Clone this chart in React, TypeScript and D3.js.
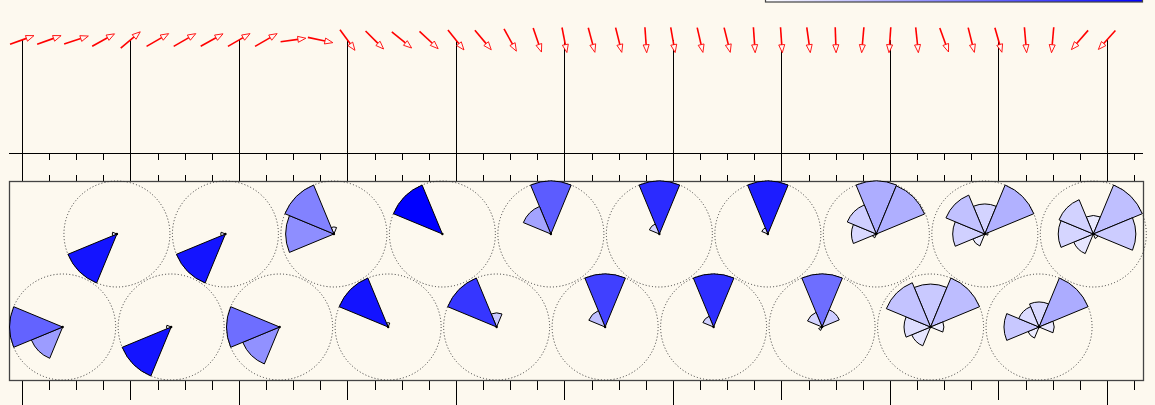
import React from "react";
import * as d3 from "d3";

// ---- data ----
// Wind arrow bearings (degrees, direction the arrow points, clockwise from north), one per time step
const ARROW_BEARING = [70, 70, 72, 61, 50, 60, 60, 61, 60, 60, 82, 102, 144, 135, 129, 133, 141, 140, 151, 161, 169, 165, 166, 176, 170, 167, 166, 176, 176, 172, 178, 185, 184, 174, 160, 166, 164, 175, 185, 221, 222];

// Direction sectors of the wind roses
const SECTORS = ["N", "NE", "E", "SE", "S", "SW", "W", "NW"];

// Wind rose frequencies per sector [N, NE, E, SE, S, SW, W, NW]
const ROSE_FREQ: number[][] = [
  [0, 0, 0, 0, 0, 0.39, 0.61, 0],
  [0, 0, 0, 0, 0, 0.92, 0.08, 0],
  [0, 0, 0, 0, 0, 0.92, 0.08, 0],
  [0, 0, 0, 0, 0, 0.92, 0.08, 0],
  [0, 0, 0, 0, 0, 0.43, 0.57, 0],
  [0.065, 0, 0, 0, 0, 0, 0.445, 0.49],
  [0.075, 0, 0, 0, 0, 0, 0, 0.925],
  [0, 0, 0, 0, 0, 0, 0, 1],
  [0.21, 0, 0, 0, 0, 0, 0, 0.79],
  [0.64, 0, 0, 0, 0, 0, 0, 0.36],
  [0.75, 0, 0, 0, 0, 0, 0, 0.25],
  [0.83, 0, 0, 0, 0, 0, 0, 0.17],
  [0.82, 0, 0, 0, 0, 0, 0, 0.18],
  [0.89, 0, 0, 0, 0, 0, 0, 0.11],
  [0.57, 0.2, 0, 0, 0, 0.04, 0, 0.17],
  [0.32, 0.315, 0, 0, 0, 0.025, 0.15, 0.19],
  [0.21, 0.26, 0.065, 0, 0, 0.1, 0.13, 0.235],
  [0.173, 0.306, 0.018, 0, 0, 0.075, 0.185, 0.243],
  [0.154, 0.327, 0.093, 0, 0, 0.074, 0.216, 0.136],
  [0.087, 0.25, 0.2, 0.023, 0, 0.1, 0.165, 0.175],
];

const N_TICKS = 42; // tick indices 0..41
const MAJOR_EVERY = 4;

// ---- layout ----
const W = 1155;
const H = 405;
const BG = "#fdf9ef";
const PANEL = { x0: 9, x1: 1143, y0: 181, y1: 380 };
const AXIS_Y = 153;
const ARROW_Y = 40;
const ARROW_LEN = 25.5;
const ROSE_R = 53;

export default function App() {
  const x = d3.scaleLinear().domain([0, N_TICKS - 1]).range([22, 1134]);
  const color = d3.interpolateRgb("#ffffff", "#0000ff");
  const rowY = [PANEL.y1 - ROSE_R, PANEL.y0 + ROSE_R];
  const ticks = d3.range(N_TICKS);
  const arc = d3.arc<any>();
  const sectorAngle = (2 * Math.PI) / SECTORS.length;

  const crisp = (v: number) => Math.round(v) + 0.5;

  return (
    <svg
      width={W}
      height={H}
      style={{ position: "absolute", left: 0, top: 0, display: "block", background: BG }}
    >
      <defs>
        <linearGradient id="legendGrad" x1="0" x2="1" y1="0" y2="0">
          <stop offset="0%" stopColor="#ffffff" />
          <stop offset="100%" stopColor="#0000ff" />
        </linearGradient>
      </defs>
      <rect x={0} y={0} width={W} height={H} fill={BG} />

      {/* legend colour bar (mostly above the visible area) */}
      <rect x={765.5} y={-30} width={377} height={32} fill="url(#legendGrad)" stroke="#444" strokeWidth={1.2} />

      {/* major vertical guide lines */}
      {ticks
        .filter((t) => t % MAJOR_EVERY === 0 && t < ARROW_BEARING.length)
        .map((t) => (
          <line key={"v" + t} x1={crisp(x(t))} x2={crisp(x(t))} y1={ARROW_Y} y2={PANEL.y0} stroke="#000" strokeWidth={1} />
        ))}

      {/* top time axis */}
      <line x1={PANEL.x0} x2={PANEL.x1} y1={AXIS_Y + 0.5} y2={AXIS_Y + 0.5} stroke="#000" strokeWidth={1} />
      {ticks.map((t) => (
        <g key={"tt" + t}>
          <line x1={crisp(x(t))} x2={crisp(x(t))} y1={AXIS_Y} y2={AXIS_Y + 7} stroke="#000" strokeWidth={1} />
          <line x1={crisp(x(t))} x2={crisp(x(t))} y1={PANEL.y0 - 6} y2={PANEL.y0} stroke="#000" strokeWidth={1} />
        </g>
      ))}

      {/* bottom ticks */}
      {ticks.map((t) => {
        const isMajor = t % MAJOR_EVERY === 0;
        const isDay = t % (MAJOR_EVERY * 2) === 0;
        const len = isMajor ? (isDay ? 30 : 20) : 10;
        return (
          <line key={"bt" + t} x1={crisp(x(t))} x2={crisp(x(t))} y1={PANEL.y1} y2={PANEL.y1 + len} stroke="#000" strokeWidth={1} />
        );
      })}

      {/* panel */}
      <rect
        x={PANEL.x0 + 0.5}
        y={PANEL.y0 + 0.5}
        width={PANEL.x1 - PANEL.x0}
        height={PANEL.y1 - PANEL.y0}
        fill={BG}
        stroke="#444"
        strokeWidth={1.3}
      />

      {/* dotted rose circles */}
      {ROSE_FREQ.map((_, i) => (
        <circle
          key={"c" + i}
          cx={x(1.5 + 2 * i)}
          cy={rowY[i % 2]}
          r={ROSE_R}
          fill="none"
          stroke="#333"
          strokeWidth={1}
          strokeDasharray="1,2.2"
        />
      ))}

      {/* wind roses */}
      {ROSE_FREQ.map((freq, i) => {
        const maxF = d3.max(freq) || 1;
        const r = d3.scaleLinear().domain([0, maxF]).range([0, ROSE_R]);
        return (
          <g key={"r" + i} transform={`translate(${x(1.5 + 2 * i)},${rowY[i % 2]})`}>
            {freq.map((f, k) =>
              f > 0 ? (
                <path
                  key={SECTORS[k]}
                  d={
                    arc({
                      innerRadius: 0,
                      outerRadius: r(f),
                      startAngle: k * sectorAngle - sectorAngle / 2,
                      endAngle: k * sectorAngle + sectorAngle / 2,
                    }) as string
                  }
                  fill={color(f)}
                  stroke="#000"
                  strokeWidth={1}
                  strokeLinejoin="round"
                />
              ) : null
            )}
            <circle r={1.2} fill="#000" />
          </g>
        );
      })}

      {/* wind arrows */}
      {ARROW_BEARING.map((b, i) => {
        const rad = (b * Math.PI) / 180;
        const ux = Math.sin(rad);
        const uy = -Math.cos(rad);
        const cx = x(i);
        const cy = ARROW_Y;
        const tx = cx - (ux * ARROW_LEN) / 2;
        const ty = cy - (uy * ARROW_LEN) / 2;
        const hx = cx + (ux * ARROW_LEN) / 2;
        const hy = cy + (uy * ARROW_LEN) / 2;
        const headL = 8;
        const headW = 3;
        const bx = hx - ux * headL;
        const by = hy - uy * headL;
        const px = -uy;
        const py = ux;
        const head = `M${hx},${hy}L${bx + px * headW},${by + py * headW}L${bx - px * headW},${by - py * headW}Z`;
        return (
          <g key={"a" + i}>
            <line x1={tx} y1={ty} x2={bx} y2={by} stroke="#ff0000" strokeWidth={1.6} />
            <path d={head} fill="#fff8f4" stroke="#ff0000" strokeWidth={0.9} strokeLinejoin="miter" />
          </g>
        );
      })}
    </svg>
  );
}
